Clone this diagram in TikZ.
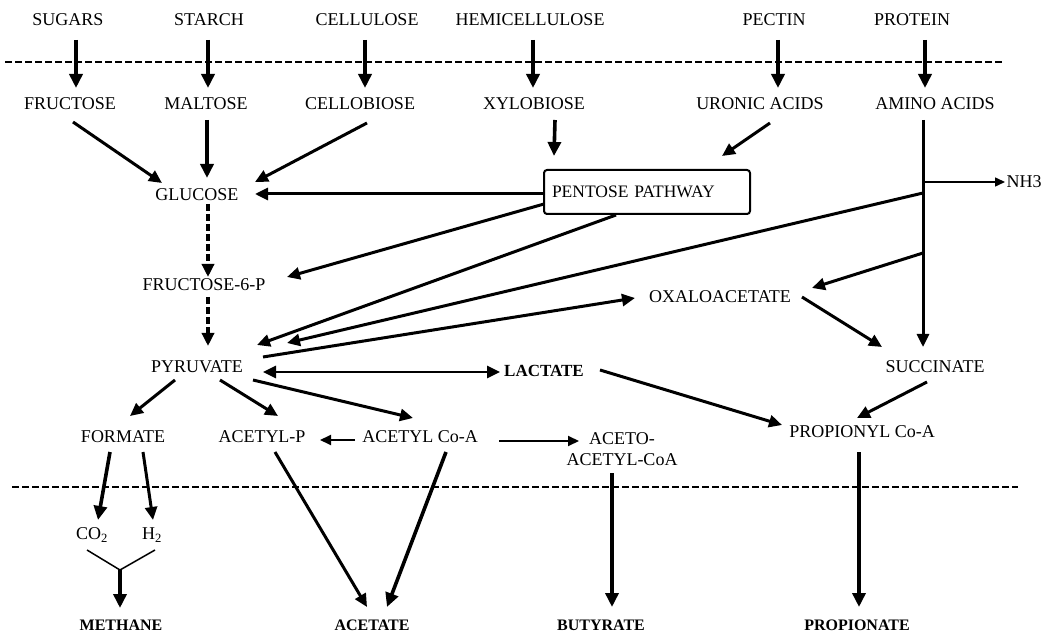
\documentclass[tikz,border=0pt]{standalone}
\usepackage{fontspec}
\setmainfont{Liberation Serif}
\usetikzlibrary{arrows.meta,calc}
\begin{document}
\begin{tikzpicture}[x=1pt,y=-1pt,
  lbl/.style={inner sep=0pt, font=\fontsize{18}{21}\selectfont},
  blbl/.style={inner sep=0pt, font=\fontsize{16}{19}\selectfont\bfseries},
  big/.style={line width=3.6pt, -{Triangle[length=14pt,width=13pt]}},
  med/.style={line width=3pt, -{Triangle[length=13pt,width=12pt]}},
  thin/.style={line width=2pt, -{Triangle[length=11pt,width=10pt]}},
  hair/.style={line width=1.5pt},
  sep/.style={line width=2.6pt, dash pattern=on 7pt off 3pt},
  dashedarrow/.style={line width=3.6pt, dash pattern=on 7pt off 3pt, -{Triangle[length=13pt,width=12pt]}},
  boxst/.style={draw, line width=2pt, rounded corners=3pt, minimum width=206pt, minimum height=44pt,
     text width=190pt, align=left, inner sep=8pt, font=\fontsize{17.5}{20}\selectfont}
]
\useasboundingbox (0,0) rectangle (1042,636);

% separators
\draw[sep] (5,62) -- (1005,62);
\draw[sep] (12,487) -- (1018,487);

% top row
\node[lbl] (sugars) at (68,20) {SUGARS};
\node[lbl] (starch) at (209,20) {STARCH};
\node[lbl] (cellulose) at (367,20) {CELLULOSE};
\node[lbl] (hemi) at (530,20) {HEMICELLULOSE};
\node[lbl] (pectin) at (774,20) {PECTIN};
\node[lbl] (protein) at (912,20) {PROTEIN};

% second row
\node[lbl] (fructose) at (70,104) {FRUCTOSE};
\node[lbl] (maltose) at (206,104) {MALTOSE};
\node[lbl] (cellobiose) at (360,104) {CELLOBIOSE};
\node[lbl] (xylobiose) at (534,104) {XYLOBIOSE};
\node[lbl] (uronic) at (760,104) {URONIC ACIDS};
\node[lbl] (amino) at (935,104) {AMINO ACIDS};

\node[lbl] (glucose) at (197,195) {GLUCOSE};
\node[boxst] (pentose) at (647,192) {PENTOSE PATHWAY};
\node[lbl] (nh3) at (1024,182) {NH3};
\node[lbl] (fru6p) at (204,285) {FRUCTOSE-6-P};
\node[lbl] (oxalo) at (720,297) {OXALOACETATE};
\node[lbl] (pyruvate) at (197,367) {PYRUVATE};
\node[blbl, font=\fontsize{17}{20}\selectfont\bfseries] (lactate) at (544,371) {LACTATE};
\node[lbl] (succinate) at (935,367) {SUCCINATE};

\node[lbl] (formate) at (123,437) {FORMATE};
\node[lbl] (acetylp) at (262,437) {ACETYL-P};
\node[lbl] (acetylcoa) at (420,437) {ACETYL Co-A};
\node[lbl, align=center] (acetoacetyl) at (622,449) {ACETO-\\ACETYL-CoA};
\node[lbl] (propionyl) at (862,432) {PROPIONYL Co-A};

\node[lbl] (co2) at (92,535) {CO\textsubscript{2}};
\node[lbl] (h2) at (152,535) {H\textsubscript{2}};

\node[blbl] (methane) at (121,625) {METHANE};
\node[blbl] (acetate) at (372,625) {ACETATE};
\node[blbl] (butyrate) at (601,625) {BUTYRATE};
\node[blbl] (propionate) at (857,625) {PROPIONATE};

% junction points on the amino-acid line
\coordinate (aa1) at ($(amino)+(-12,78)$);
\coordinate (aa2) at ($(amino)+(-12,89)$);
\coordinate (aa3) at ($(amino)+(-12,149)$);
\coordinate (yj) at ($(methane)+(-1,-55)$);

% hydrolysis arrows
\draw[big] ($(sugars)+(8,20)$) -- ($(fructose)+(6,-16)$);
\draw[big] ($(starch)+(-1,20)$) -- ($(maltose)+(2,-16)$);
\draw[big] ($(cellulose)+(-2,20)$) -- ($(cellobiose)+(5,-16)$);
\draw[big] ($(hemi)+(3,20)$) -- ($(xylobiose)+(-1,-16)$);
\draw[big] ($(pectin)+(4,20)$) -- ($(uronic)+(18,-16)$);
\draw[big] ($(protein)+(13,20)$) -- ($(amino)+(-10,-16)$);

% to glucose
\draw[med] ($(fructose)+(3,18)$) -- ($(glucose)+(-35,-12)$);
\draw[big] ($(maltose)+(1,16)$) -- ($(glucose)+(10,-17)$);
\draw[med] ($(cellobiose)+(7,19)$) -- ($(glucose)+(58,-13)$);
\draw[med] ($(pentose.west)+(0,2)$) -- ($(glucose)+(58,-1)$);

% to pentose pathway
\draw[big] ($(xylobiose)+(21,16)$) -- ($(pentose.north west)+(11,-13)$);
\draw[med] ($(uronic)+(10,19)$) -- ($(pentose.north west)+(179,-13)$);

% glycolysis
\draw[dashedarrow] ($(glucose)+(11,9)$) -- ($(fru6p)+(4,-8)$);
\draw[dashedarrow] ($(fru6p)+(4,12)$) -- ($(pyruvate)+(11,-21)$);

% fan from pentose pathway and amino acids
\draw[med] ($(pentose.south west)+(1,-11)$) -- ($(fru6p)+(83,-8)$);
\draw[med] ($(pentose.south west)+(73,0)$) -- ($(pyruvate)+(60,-22)$);
\draw[med] (aa2) -- ($(pyruvate)+(90,-24)$);
\draw[med] ($(pyruvate)+(66,-10)$) -- ($(oxalo)+(-85,1)$);
\draw[med] (aa3) -- ($(oxalo)+(92,-9)$);
\draw[med] ($(oxalo)+(82,0)$) -- ($(succinate)+(-53,-20)$);
\draw[med] ($(amino)+(-12,16)$) -- ($(succinate)+(-12,-20)$);
\draw[hair, -{Triangle[length=10pt,width=9pt]}] (aa1) -- ($(nh3)+(-19,0)$);

% pyruvate / lactate
\draw[line width=2.6pt, {Triangle[length=13pt,width=12pt]}-{Triangle[length=13pt,width=12pt]}]
  ($(pyruvate)+(66,5)$) -- ($(lactate)+(-44,1)$);
\draw[med] ($(lactate)+(56,-1)$) -- ($(propionyl)+(-80,-7)$);
\draw[med] ($(succinate)+(-8,15)$) -- ($(propionyl)+(-5,-14)$);

% from pyruvate
\draw[med] ($(pyruvate)+(-22,13)$) -- ($(formate)+(7,-21)$);
\draw[med] ($(pyruvate)+(23,13)$) -- ($(acetylp)+(16,-21)$);
\draw[med] ($(pyruvate)+(56,13)$) -- ($(acetylcoa)+(-7,-19)$);
\draw[thin] ($(acetylcoa)+(-65,3)$) -- ($(acetylp)+(58,3)$);
\draw[thin] ($(acetylcoa)+(79,4)$) -- ($(acetoacetyl)+(-43,-8)$);

% formate split
\draw[big] ($(formate)+(-13,15)$) -- ($(co2)+(6,-15)$);
\draw[med] ($(formate)+(20,15)$) -- ($(h2)+(1,-15)$);
\draw[hair] ($(co2)+(-5,15)$) -- (yj) -- ($(h2)+(3,15)$);
\draw[big] (yj) -- ($(methane)+(-1,-17)$);

% end products
\draw[med] ($(acetylp)+(13,15)$) -- ($(acetate)+(-5,-18)$);
\draw[big] ($(acetylcoa)+(26,15)$) -- ($(acetate)+(15,-18)$);
\draw[big] ($(acetoacetyl)+(-10,24)$) -- ($(butyrate)+(11,-18)$);
\draw[big] ($(propionyl)+(-3,20)$) -- ($(propionate)+(2,-18)$);
\end{tikzpicture}
\end{document}
